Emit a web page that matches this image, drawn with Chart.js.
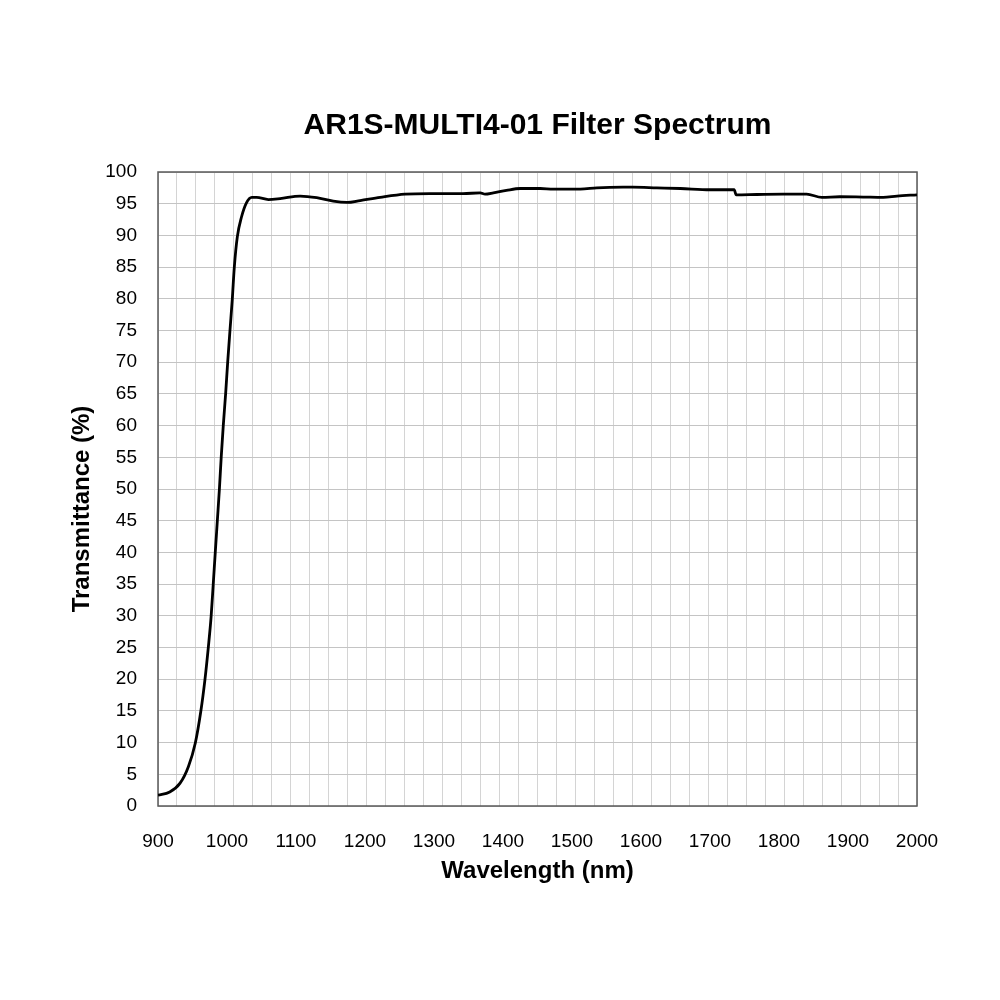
<!DOCTYPE html>
<html>
<head>
<meta charset="utf-8">
<title>AR1S-MULTI4-01 Filter Spectrum</title>
<script src="https://cdn.jsdelivr.net/npm/chart.js@4.4.1/dist/chart.umd.min.js"></script>
<style>
  html, body { margin: 0; padding: 0; background: #fff; }
  canvas { display: block; }
</style>
</head>
<body>
<canvas id="spectrumChart" width="1000" height="1000"></canvas>
<script>
const wavelength = [
  900, 917, 932, 944, 954, 962, 968, 973, 977, 980,
  983, 986, 989, 991.6, 994.6, 998, 1001, 1004.3, 1007.7, 1010.6,
  1015, 1021, 1028, 1036, 1043, 1060, 1077, 1106, 1130, 1154,
  1174, 1193, 1222, 1258, 1294, 1342, 1367, 1374, 1386, 1405,
  1425, 1454, 1473, 1512, 1536, 1574, 1588, 1623, 1657, 1700,
  1735, 1738, 1768, 1806, 1840, 1862, 1888, 1922, 1951, 1971,
  2000
];
const transmittance = [
  1.7, 2.2, 3.6, 6.2, 9.9, 14.9, 19.9, 25.1, 29.9, 34.9,
  40, 45, 50, 55, 60, 65, 70, 75, 80, 85,
  89.8, 92.9, 95.1, 96.0, 96.0, 95.65, 95.8, 96.2, 95.95, 95.4,
  95.2, 95.5, 96.0, 96.5, 96.6, 96.6, 96.7, 96.5, 96.7, 97.1,
  97.4, 97.4, 97.3, 97.3, 97.5, 97.6, 97.6, 97.5, 97.4, 97.2,
  97.2, 96.4, 96.45, 96.5, 96.5, 96.0, 96.1, 96.05, 96.0, 96.2,
  96.4
];
const xLabels = [900, 1000, 1100, 1200, 1300, 1400, 1500, 1600, 1700, 1800, 1900, 2000];
const gridDivisions = 40; // vertical grid lines in the original are not on the labelled ticks

const fontFamily = "'Liberation Sans', Arial, sans-serif";

// frame round the plot area
const plotFrame = {
  id: "plotFrame",
  beforeDatasetsDraw(chart) {
    const { ctx, chartArea: a } = chart;
    ctx.save();
    ctx.strokeStyle = "#595959";
    ctx.lineWidth = 1.5;
    ctx.strokeRect(a.left, a.top, a.right - a.left, a.bottom - a.top);
    ctx.restore();
  }
};

const ctx = document.getElementById("spectrumChart").getContext("2d");

new Chart(ctx, {
  type: "line",
  data: {
    datasets: [{
      label: "Transmittance",
      data: wavelength.map((w, i) => ({ x: w, y: transmittance[i] })),
      borderColor: "#000",
      borderWidth: 2.8,
      pointRadius: 0,
      fill: false,
      cubicInterpolationMode: "monotone"
    }]
  },
  options: {
    responsive: false,
    animation: false,
    layout: { padding: { top: 0, right: 83, bottom: 0, left: 0 } },
    plugins: {
      legend: { display: false },
      tooltip: { enabled: false },
      title: {
        display: true,
        fullSize: false, // centre over the plot area
        text: "AR1S-MULTI4-01 Filter Spectrum",
        color: "#000",
        font: { family: fontFamily, size: 30, weight: "bold" },
        padding: { top: 108, bottom: 28 }
      }
    },
    scales: {
      x: {
        type: "linear",
        position: "bottom",
        min: 900,
        max: 2000,
        afterBuildTicks: scale => { scale.ticks = xLabels.map(v => ({ value: v })); },
        afterFit: scale => { scale.height = 194; },
        grid: { display: false, drawTicks: false },
        border: { display: false },
        ticks: {
          color: "#000",
          padding: 24,
          maxRotation: 0,
          autoSkip: false,
          font: { family: fontFamily, size: 19 },
          callback: v => String(v)
        },
        title: {
          display: true,
          text: "Wavelength (nm)",
          color: "#000",
          font: { family: fontFamily, size: 24, weight: "bold" },
          padding: { top: 0, bottom: 114.6 }
        }
      },
      xGrid: {
        type: "linear",
        position: "top",
        min: 900,
        max: 2000,
        afterBuildTicks: scale => {
          const step = (2000 - 900) / gridDivisions;
          scale.ticks = Array.from({ length: gridDivisions + 1 }, (_, i) => ({ value: 900 + i * step }));
        },
        afterFit: scale => { scale.height = 0; },
        grid: { color: "#d4d4d4", lineWidth: 1, drawTicks: false },
        border: { display: false },
        ticks: { display: false }
      },
      y: {
        min: 0,
        max: 100,
        afterFit: scale => { scale.width = 158; },
        grid: { color: "#c4c4c4", lineWidth: 1, drawTicks: false },
        border: { display: false },
        ticks: {
          stepSize: 5,
          color: "#000",
          padding: 21,
          font: { family: fontFamily, size: 19 }
        },
        title: {
          display: true,
          // trailing spaces push the title down, as it sits below centre in the original
          text: "Transmittance (%)      ",
          color: "#000",
          font: { family: fontFamily, size: 24, weight: "bold" },
          padding: { top: 67.6, bottom: 0 }
        }
      }
    }
  },
  plugins: [plotFrame]
});
</script>
</body>
</html>
